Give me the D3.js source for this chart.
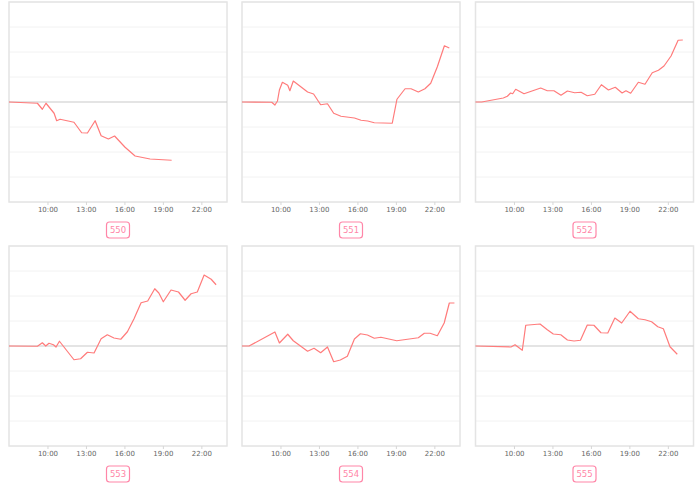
<!DOCTYPE html>
<html>
<head>
<meta charset="utf-8">
<script src="https://cdn.jsdelivr.net/npm/d3@7/dist/d3.min.js"></script>
<style>
  html, body { margin: 0; padding: 0; background: #fff; }
  svg { display: block; }
</style>
</head>
<body>
<svg id="chart" width="700" height="487"></svg>
<script>
// ---- data ----
const categories = ["550", "551", "552", "553", "554", "555"];
const xTickLabels = ["10:00", "13:00", "16:00", "19:00", "22:00"];
const yTickValues = [-4, -3, -2, -1, 0, 1, 2, 3, 4];

const series550 = [["07:00",0],["09:13",-0.05],["09:36",-0.29],["09:53",-0.05],["10:31",-0.45],["10:43",-0.75],["10:59",-0.69],["12:04",-0.81],["12:40",-1.23],["13:07",-1.24],["13:43",-0.75],["14:11",-1.35],["14:45",-1.48],["15:14",-1.36],["16:03",-1.81],["16:50",-2.16],["18:00",-2.28],["19:41",-2.33]];
const series551 = [["07:00",0],["09:19",-0.01],["09:34",-0.12],["09:46",0.04],["09:55",0.48],["10:09",0.79],["10:34",0.67],["10:44",0.45],["11:00",0.84],["12:07",0.40],["12:35",0.32],["13:08",-0.11],["13:40",-0.07],["14:09",-0.45],["14:43",-0.57],["15:46",-0.64],["16:17",-0.73],["16:48",-0.76],["17:19",-0.83],["18:43",-0.85],["19:05",0.11],["19:43",0.53],["20:11",0.53],["20:45",0.40],["21:16",0.53],["21:43",0.75],["22:14",1.41],["22:47",2.25],["23:10",2.16]];
const series552 = [["07:00",0],["07:29",0],["09:10",0.16],["09:29",0.23],["09:44",0.36],["09:54",0.33],["10:08",0.51],["10:47",0.33],["12:05",0.56],["12:36",0.45],["13:07",0.45],["13:40",0.27],["14:10",0.44],["14:44",0.37],["15:14",0.39],["15:43",0.25],["16:18",0.31],["16:49",0.69],["17:22",0.48],["17:54",0.59],["18:26",0.36],["18:44",0.45],["19:06",0.35],["19:42",0.79],["20:13",0.71],["20:47",1.17],["21:16",1.27],["21:42",1.44],["22:15",1.84],["22:48",2.47],["23:10",2.48]];
const series553 = [["07:00",0],["09:13",-0.01],["09:36",0.13],["09:52",0],["10:07",0.11],["10:28",0.05],["10:40",-0.04],["10:56",0.19],["12:04",-0.55],["12:35",-0.51],["13:07",-0.25],["13:38",-0.28],["14:11",0.29],["14:40",0.45],["15:11",0.32],["15:43",0.27],["16:14",0.57],["16:45",1.09],["17:18",1.73],["17:49",1.80],["18:22",2.29],["18:41",2.12],["19:02",1.77],["19:38",2.24],["20:13",2.16],["20:44",1.83],["21:12",2.09],["21:41",2.16],["22:13",2.84],["22:46",2.67],["23:09",2.45]];
const series554 = [["07:00",0],["07:33",0],["09:34",0.56],["09:55",0.12],["10:34",0.47],["11:00",0.21],["12:07",-0.21],["12:37",-0.09],["13:08",-0.27],["13:40",-0.04],["14:09",-0.63],["14:40",-0.56],["15:13",-0.41],["15:46",0.28],["16:14",0.49],["16:47",0.44],["17:19",0.31],["17:50",0.35],["19:04",0.21],["20:45",0.33],["21:13",0.51],["21:40",0.51],["22:14",0.41],["22:46",0.92],["23:10",1.72],["23:34",1.72]];
const series555 = [["07:00",0],["09:46",-0.04],["10:05",0.05],["10:39",-0.17],["10:55",0.83],["12:02",0.88],["12:36",0.65],["13:04",0.48],["13:39",0.45],["14:10",0.24],["14:41",0.20],["15:11",0.23],["15:43",0.84],["16:14",0.83],["16:47",0.53],["17:19",0.52],["17:52",1.12],["18:24",0.92],["19:03",1.39],["19:42",1.09],["20:13",1.05],["20:44",0.97],["21:13",0.77],["21:39",0.69],["22:10",-0.03],["22:44",-0.33]];

const allSeries = [series550, series551, series552, series553, series554, series555];

// ---- layout ----
const svg = d3.select("#chart");
const colX = [9, 242, 475.5];
const rowY = [2, 246];
const pw = 218, ph = 200;
const lineColor = "#ff7b7b";
const labelColor = "#ff86a8";

const toHours = s => { const [h, m] = s.split(":").map(Number); return h + m / 60; };

const x = d3.scaleLinear().domain([7, 24]).range([0, pw]);
const y = d3.scaleLinear().domain([-4, 4]).range([ph, 0]);

categories.forEach((cat, i) => {
  const g = svg.append("g")
    .attr("transform", `translate(${colX[i % 3]},${rowY[Math.floor(i / 3)]})`);

  // grid
  g.append("g").selectAll("line").data(yTickValues.filter(v => v !== 0)).join("line")
    .attr("x1", 0).attr("x2", pw)
    .attr("y1", d => y(d)).attr("y2", d => y(d))
    .attr("stroke", "#f2f2f2").attr("stroke-width", 1);

  // frame
  g.append("rect").attr("x", 0).attr("y", 0).attr("width", pw).attr("height", ph)
    .attr("fill", "none").attr("stroke", "#e4e4e4").attr("stroke-width", 1.5);

  // zero line
  g.append("line").attr("x1", 0).attr("x2", pw)
    .attr("y1", y(0)).attr("y2", y(0))
    .attr("stroke", "#c9c9c9").attr("stroke-width", 1);

  // x axis
  const axis = d3.axisBottom(x)
    .tickValues(xTickLabels.map(toHours))
    .tickFormat((d, k) => xTickLabels[k])
    .tickSize(3).tickPadding(2);
  const ax = g.append("g").attr("transform", `translate(0,${ph})`).call(axis);
  ax.select(".domain").remove();
  ax.selectAll(".tick line").attr("stroke", "#d6d6d6");
  ax.selectAll(".tick text")
    .attr("fill", "#666").attr("font-size", "7px")
    .attr("font-family", "'DejaVu Sans', Verdana, sans-serif");

  // line
  const line = d3.line().x(d => x(toHours(d[0]))).y(d => y(d[1]));
  g.append("path").datum(allSeries[i])
    .attr("d", line).attr("fill", "none")
    .attr("stroke", lineColor).attr("stroke-width", 1.2)
    .attr("stroke-linejoin", "round");

  // label box
  const bw = 23, bh = 16;
  const lb = g.append("g").attr("transform", `translate(${pw / 2},${ph + 28})`);
  lb.append("rect").attr("x", -bw / 2).attr("y", -bh / 2).attr("width", bw).attr("height", bh)
    .attr("rx", 3).attr("fill", "#fff")
    .attr("stroke", labelColor).attr("stroke-width", 1.2);
  lb.append("text").text(cat)
    .attr("text-anchor", "middle").attr("dy", "0.35em")
    .attr("fill", labelColor).attr("font-size", "8.5px")
    .attr("font-family", "'DejaVu Sans', Verdana, sans-serif");
});
</script>
</body>
</html>
